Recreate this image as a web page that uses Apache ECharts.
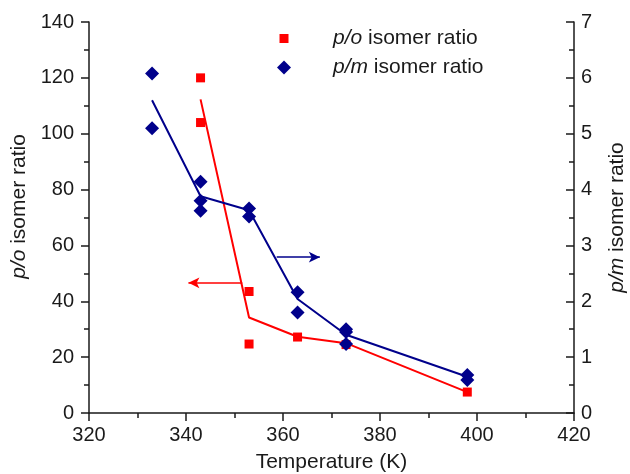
<!DOCTYPE html>
<html><head><meta charset="utf-8">
<script src="https://cdn.jsdelivr.net/npm/echarts@6/dist/echarts.min.js"></script>
<style>html,body{margin:0;padding:0;background:#fff}#c{width:630px;height:474px}</style>
</head><body><div id="c"></div>
<script>
// Data
const poTemps = [343, 343, 353, 353, 363, 373, 398];
const poValues = [120, 104, 43.5, 24.7, 27.2, 24.5, 7.5];
const pmTemps = [333, 333, 343, 343, 343, 353, 353, 363, 363, 373, 373, 373, 398, 398];
const pmValues = [6.08, 5.10, 4.14, 3.80, 3.62, 3.66, 3.52, 2.16, 1.80, 1.50, 1.45, 1.235, 0.68, 0.59];
const poFitTemps = [343, 353, 363, 373, 398];
const poFitValues = [112.3, 34.2, 27.3, 25.0, 7.5];
const pmFitTemps = [333, 343, 353, 363, 373, 398];
const pmFitValues = [5.60, 3.88, 3.63, 2.04, 1.40, 0.65];
const poArrow = [[351.6, 46.6], [340.5, 46.6]];
const pmArrow = [[358.7, 2.79], [367.6, 2.79]];
const seriesNames = ['p/o', 'p/m'];

const zip = (a, b) => a.map((v, i) => [v, b[i]]);
const FONT = 'Liberation Sans, Arial, sans-serif';
const TXT = '#1a1a1a';
const RED = '#ff0000';
const BLUE = '#00008b';
const FS = 20;
const NFS = 21;

const chart = echarts.init(document.getElementById('c'), null, {renderer: 'canvas'});
const axisLineStyle = {color: '#1a1a1a', width: 1.5};
chart.setOption({
  animation: false,
  backgroundColor: '#fff',
  grid: {left: 89, right: 56, top: 22, bottom: 61, containLabel: false, outerBoundsMode: 'none'},
  legend: {
    orient: 'vertical', left: 277, top: 28, itemGap: 8, padding: 0,
    itemWidth: 14, itemHeight: 14,
    data: [{name: seriesNames[0], icon: 'path://M0,0L0,0M14,14L14,14M2.5,2.5L11.5,2.5L11.5,11.5L2.5,11.5Z', itemStyle: {color: RED, opacity: 1}},
           {name: seriesNames[1], icon: 'diamond', itemStyle: {color: BLUE, opacity: 1}}],
    formatter: n => '{i|' + n + '}{t| isomer ratio}',
    textStyle: {fontSize: NFS, fontFamily: FONT, color: TXT, lineHeight: 21,
      rich: {i: {fontStyle: 'italic', fontSize: NFS, fontFamily: FONT, color: TXT, lineHeight: 21, padding: [0, 0, 0, 37]},
             t: {fontSize: NFS, fontFamily: FONT, color: TXT, lineHeight: 21}}}
  },
  xAxis: {
    type: 'value', min: 320, max: 420, interval: 20,
    name: 'Temperature (K)', nameLocation: 'middle', nameGap: 39, nameMoveOverlap: false,
    nameTextStyle: {fontSize: NFS, fontFamily: FONT, color: TXT},
    axisLine: {show: true, lineStyle: axisLineStyle},
    axisTick: {show: true, inside: false, length: 8, lineStyle: axisLineStyle},
    minorTick: {show: true, splitNumber: 2, length: 5, lineStyle: {color: '#1a1a1a', width: 1.5}},
    axisLabel: {fontSize: FS, fontFamily: FONT, color: TXT, margin: 12},
    splitLine: {show: false}
  },
  yAxis: [{
    type: 'value', min: 0, max: 140, interval: 20, position: 'left',
    name: '{i|p/o} isomer ratio', nameLocation: 'middle', nameGap: 59, nameRotate: 90, nameMoveOverlap: false,
    nameTextStyle: {fontSize: NFS, fontFamily: FONT, color: TXT, padding: [0, 0, 0, 22],
      rich: {i: {fontStyle: 'italic', fontSize: NFS, fontFamily: FONT, color: TXT}}},
    axisLine: {show: true, lineStyle: axisLineStyle},
    axisTick: {show: true, inside: false, length: 8, lineStyle: axisLineStyle},
    minorTick: {show: true, splitNumber: 2, length: 5, lineStyle: {color: '#1a1a1a', width: 1.5}},
    axisLabel: {fontSize: FS, fontFamily: FONT, color: TXT, margin: 15},
    splitLine: {show: false}
  }, {
    type: 'value', min: 0, max: 7, interval: 1, position: 'right',
    name: '{i|p/m} isomer ratio', nameLocation: 'middle', nameGap: 33, nameRotate: 90,
    nameTextStyle: {fontSize: NFS, fontFamily: FONT, color: TXT,
      rich: {i: {fontStyle: 'italic', fontSize: NFS, fontFamily: FONT, color: TXT}}},
    axisLine: {show: true, lineStyle: axisLineStyle},
    axisTick: {show: true, inside: true, length: 8, lineStyle: axisLineStyle},
    minorTick: {show: true, splitNumber: 2, length: 5, lineStyle: {color: '#1a1a1a', width: 1.5}},
    axisLabel: {fontSize: FS, fontFamily: FONT, color: TXT, margin: 7},
    splitLine: {show: false}
  }],
  series: [{
    name: 'poFit', type: 'line', yAxisIndex: 0, z: 2, showSymbol: false, symbol: 'none',
    data: zip(poFitTemps, poFitValues), lineStyle: {color: RED, width: 2},
    markLine: {silent: true, symbol: ['none', 'arrow'], symbolSize: [8, 11],
      label: {show: false}, lineStyle: {color: RED, width: 1.5, type: 'solid'},
      data: [[{coord: poArrow[0]}, {coord: poArrow[1]}]]}
  }, {
    name: seriesNames[0], type: 'scatter', yAxisIndex: 0, z: 3, symbol: 'rect', symbolSize: 9,
    itemStyle: {color: RED, opacity: 1}, data: zip(poTemps, poValues)
  }, {
    name: 'pmFit', type: 'line', yAxisIndex: 1, z: 4, showSymbol: false, symbol: 'none',
    data: zip(pmFitTemps, pmFitValues), lineStyle: {color: BLUE, width: 2},
    markLine: {silent: true, symbol: ['none', 'arrow'], symbolSize: [8, 11],
      label: {show: false}, lineStyle: {color: BLUE, width: 1.5, type: 'solid'},
      data: [[{coord: pmArrow[0]}, {coord: pmArrow[1]}]]}
  }, {
    name: seriesNames[1], type: 'scatter', yAxisIndex: 1, z: 5, symbol: 'diamond', symbolSize: 14,
    itemStyle: {color: BLUE, opacity: 1}, data: zip(pmTemps, pmValues)
  }]
});
</script></body></html>
